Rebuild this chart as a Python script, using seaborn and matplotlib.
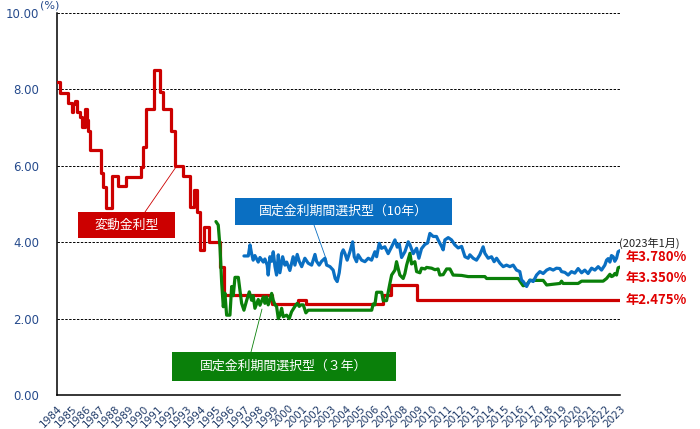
import matplotlib
matplotlib.use("Agg")
import matplotlib.pyplot as plt
from matplotlib.patches import Rectangle
import seaborn as sns
import numpy as np

# ---------------- data ----------------
years = list(range(1984, 2024))

variable_dates = [1984.00, 1984.20, 1984.78, 1985.02, 1985.13, 1985.25, 1985.36, 1985.60,
                  1985.75, 1985.94, 1986.06, 1986.17, 1986.29, 1987.03, 1987.20, 1987.39,
                  1987.79, 1988.25, 1988.78, 1989.80, 1989.98, 1990.16, 1990.74, 1991.13,
                  1991.36, 1991.87, 1992.17, 1992.75, 1993.21, 1993.49, 1993.72, 1993.90,
                  1994.18, 1994.55, 1995.30, 1995.60, 1998.90, 2000.70, 2001.24, 2006.55,
                  2007.15, 2008.95, 2023.00]
variable_rate = [8.20, 7.90, 7.64, 7.42, 7.63, 7.70, 7.40, 7.29,
                 7.02, 7.50, 7.20, 6.90, 6.41, 5.80, 5.45, 4.90,
                 5.72, 5.47, 5.70, 5.98, 6.48, 7.50, 8.50, 7.94,
                 7.50, 6.92, 6.00, 5.72, 4.93, 5.37, 4.80, 3.80,
                 4.40, 4.00, 3.35, 2.625, 2.375, 2.50, 2.375, 2.625,
                 2.875, 2.475, 2.475]

fixed3_dates = [1995.01, 1995.17, 1995.29, 1995.41, 1995.52, 1995.63, 1995.75, 1995.98,
                1996.10, 1996.21, 1996.33, 1996.56, 1996.67, 1996.79, 1996.95, 1997.14,
                1997.32, 1997.48, 1997.59, 1997.71, 1997.94, 1998.06, 1998.29, 1998.40,
                1998.52, 1998.63, 1998.75, 1998.87, 1998.98, 1999.10, 1999.21, 1999.33,
                1999.44, 1999.56, 1999.67, 1999.91, 2000.09, 2000.25, 2000.48, 2000.64,
                2000.78, 2000.90, 2001.06, 2001.24, 2001.40, 2005.80, 2005.90, 2006.02,
                2006.14, 2006.49, 2006.60, 2006.83, 2007.06, 2007.18, 2007.41, 2007.52,
                2007.64, 2007.75, 2007.98, 2008.10, 2008.22, 2008.45, 2008.56, 2008.79,
                2008.91, 2009.14, 2009.25, 2009.49, 2009.60, 2009.95, 2010.18, 2010.40,
                2010.52, 2010.75, 2010.99, 2011.22, 2011.44, 2012.03, 2012.48, 2013.64,
                2013.76, 2015.95, 2016.18, 2016.29, 2016.52, 2016.76, 2017.68, 2017.92,
                2018.84, 2018.95, 2019.06, 2020.10, 2020.34, 2021.83, 2022.07, 2022.30,
                2022.41, 2022.53, 2022.64, 2022.76, 2022.87, 2023.00]
fixed3_rate = [4.54, 4.45, 3.88, 2.92, 2.31, 2.67, 2.09, 2.09,
               2.84, 2.60, 3.08, 3.08, 2.75, 2.40, 2.22, 2.48,
               2.70, 2.48, 2.60, 2.27, 2.50, 2.35, 2.57, 2.40,
               2.57, 2.36, 2.48, 2.66, 2.48, 2.36, 2.32, 2.00,
               2.09, 2.27, 2.05, 2.09, 2.00, 2.18, 2.32, 2.40,
               2.32, 2.36, 2.36, 2.15, 2.22, 2.22, 2.38, 2.36,
               2.69, 2.69, 2.47, 2.47, 2.92, 3.14, 3.27, 3.49,
               3.30, 3.14, 3.05, 3.18, 3.40, 3.71, 3.43, 3.49,
               3.23, 3.20, 3.32, 3.30, 3.34, 3.32, 3.28, 3.30,
               3.14, 3.15, 3.30, 3.30, 3.14, 3.13, 3.10, 3.10,
               3.05, 3.05, 2.92, 2.86, 2.88, 3.00, 3.00, 2.88,
               2.92, 2.98, 2.92, 2.92, 2.98, 2.98, 3.05, 3.16,
               3.10, 3.12, 3.18, 3.14, 3.33, 3.35]

fixed10_dates = [1996.95, 1997.25, 1997.37, 1997.48, 1997.59, 1997.71, 1997.94, 1998.06,
                 1998.29, 1998.40, 1998.56, 1998.63, 1998.75, 1998.87, 1998.98, 1999.10,
                 1999.21, 1999.33, 1999.44, 1999.63, 1999.79, 1999.91, 2000.13, 2000.36,
                 2000.48, 2000.64, 2000.78, 2000.95, 2001.17, 2001.40, 2001.64, 2001.87,
                 2001.98, 2002.16, 2002.33, 2002.56, 2002.68, 2002.91, 2003.13, 2003.27,
                 2003.41, 2003.55, 2003.72, 2003.83, 2003.94, 2004.10, 2004.29, 2004.48,
                 2004.59, 2004.75, 2004.86, 2005.10, 2005.33, 2005.56, 2005.79, 2006.02,
                 2006.14, 2006.32, 2006.48, 2006.71, 2006.94, 2007.18, 2007.41, 2007.57,
                 2007.71, 2007.87, 2008.10, 2008.33, 2008.45, 2008.68, 2008.91, 2009.07,
                 2009.25, 2009.48, 2009.67, 2009.83, 2010.06, 2010.29, 2010.40, 2010.64,
                 2010.75, 2010.87, 2011.10, 2011.33, 2011.56, 2011.79, 2012.03, 2012.26,
                 2012.48, 2012.60, 2012.83, 2013.06, 2013.29, 2013.52, 2013.64, 2013.87,
                 2014.10, 2014.28, 2014.45, 2014.68, 2014.91, 2015.14, 2015.37, 2015.60,
                 2015.83, 2016.06, 2016.18, 2016.30, 2016.53, 2016.76, 2016.99, 2017.22,
                 2017.45, 2017.68, 2017.92, 2018.14, 2018.37, 2018.60, 2018.83, 2018.95,
                 2019.18, 2019.41, 2019.64, 2019.87, 2020.10, 2020.34, 2020.56, 2020.79,
                 2021.03, 2021.26, 2021.49, 2021.72, 2021.95, 2022.07, 2022.18, 2022.30,
                 2022.41, 2022.53, 2022.64, 2022.76, 2022.87, 2023.00]
fixed10_rate = [3.64, 3.64, 3.93, 3.70, 3.53, 3.65, 3.48, 3.60,
                3.48, 3.56, 3.40, 3.14, 3.62, 3.50, 3.75, 3.36,
                3.14, 3.67, 3.20, 3.62, 3.40, 3.48, 3.26, 3.62,
                3.40, 3.68, 3.50, 3.36, 3.58, 3.45, 3.40, 3.68,
                3.50, 3.40, 3.50, 3.58, 3.40, 3.36, 3.27, 3.05,
                2.97, 3.20, 3.71, 3.80, 3.71, 3.53, 3.75, 4.01,
                3.62, 3.49, 3.67, 3.53, 3.49, 3.58, 3.53, 3.75,
                3.62, 3.97, 3.84, 3.88, 3.70, 3.88, 4.06, 3.87,
                3.95, 3.60, 3.75, 4.01, 3.93, 3.70, 3.84, 3.58,
                3.83, 3.94, 3.98, 4.23, 4.15, 4.15, 4.06, 3.89,
                3.80, 4.06, 4.12, 4.06, 3.93, 3.85, 3.89, 3.62,
                3.58, 3.67, 3.58, 3.53, 3.67, 3.88, 3.71, 3.58,
                3.62, 3.49, 3.58, 3.45, 3.36, 3.40, 3.36, 3.40,
                3.27, 3.23, 3.01, 2.97, 2.84, 3.01, 2.97, 3.14,
                3.23, 3.18, 3.27, 3.31, 3.27, 3.32, 3.31, 3.23,
                3.21, 3.14, 3.23, 3.19, 3.31, 3.20, 3.27, 3.18,
                3.32, 3.27, 3.36, 3.27, 3.40, 3.53, 3.57, 3.48,
                3.65, 3.62, 3.50, 3.58, 3.75, 3.78]

y_ticks = [0, 2, 4, 6, 8, 10]
series_names = ["変動金利型", "固定金利期間選択型（10年）", "固定金利期間選択型（３年）"]
latest_labels = ["年3.780%", "年3.350%", "年2.475%"]
latest_date_label = "(2023年1月)"

# ---------------- style ----------------
sns.set_style("white")
plt.rcParams["font.family"] = ["DejaVu Sans", "Noto Sans CJK JP"]
CJK = ["Noto Sans CJK JP", "DejaVu Sans"]

RED, GREEN, BLUE = "#cc0000", "#0a800a", "#0a6fc2"
W, H = 700, 429

fig = plt.figure(figsize=(7.0, 4.29), dpi=100)
ax = fig.add_axes([57 / W, 1 - 395 / H, 563 / W, 382 / H])

def fx(px):
    return px / W

def fy(py):
    return 1 - py / H

sns.lineplot(x=variable_dates, y=variable_rate, ax=ax, color=RED, lw=2.3,
             estimator=None, sort=False, drawstyle="steps-post", zorder=3)
sns.lineplot(x=fixed3_dates, y=fixed3_rate, ax=ax, color=GREEN, lw=2.3,
             estimator=None, sort=False, zorder=4)
sns.lineplot(x=fixed10_dates, y=fixed10_rate, ax=ax, color=BLUE, lw=2.3,
             estimator=None, sort=False, zorder=5)

ax.set_xlim(1984, 2023)
ax.set_ylim(0, 10)
ax.set_xticks(years)
ax.set_xticklabels([str(y) for y in years], rotation=45, ha="right",
                   rotation_mode="anchor", fontsize=7.5, color="#1f3a68")
ax.set_yticks(y_ticks)
ax.set_yticklabels([f"{v:.2f}" for v in y_ticks], fontsize=8.5, color="#254a8c")
ax.tick_params(axis="x", direction="out", length=4, width=1, color="black", pad=2)
ax.tick_params(axis="y", length=0, pad=13)
ax.set_xlabel("")
ax.set_ylabel("")
for s in ["top", "right"]:
    ax.spines[s].set_visible(False)
for s in ["left", "bottom"]:
    ax.spines[s].set_color("black")
    ax.spines[s].set_linewidth(1.1)
ax.yaxis.grid(True, linestyle=(0, (2.5, 1.5)), color="black", lw=0.7)
ax.xaxis.grid(False)
ax.set_axisbelow(True)

fig.text(fx(40), fy(6), "(%)", fontsize=8, color="#254a8c", ha="left", va="center")

# latest value annotations
fig.text(fx(619), fy(243), latest_date_label, fontsize=8, color="#222222",
         ha="left", va="center", family=CJK)
for lab, yy in zip(latest_labels, [257, 278, 300]):
    fig.text(fx(626), fy(yy), lab, fontsize=9.5, color="#e00000", fontweight="bold",
             ha="left", va="center", family=CJK)

# labeled boxes with leader lines
boxes = [
    (series_names[0], RED, (78, 212, 175, 238), (145, 212), (1992.3, 6.0)),
    (series_names[1], BLUE, (235, 198, 452, 225), (314, 225), (2002.7, 3.5)),
    (series_names[2], GREEN, (172, 352, 396, 381), (251, 352), (1998.2, 2.25)),
]
for text, col, (x0, y0, x1, y1), start, target in boxes:
    rect = Rectangle((fx(x0), fy(y1)), fx(x1) - fx(x0), fy(y0) - fy(y1),
                     transform=fig.transFigure, facecolor=col, edgecolor="none",
                     zorder=10)
    fig.patches.append(rect)
    fig.text((fx(x0) + fx(x1)) / 2, (fy(y0) + fy(y1)) / 2, text, color="white",
             fontsize=9.3, ha="center", va="center", family=CJK, zorder=11)
    ax.annotate("", xy=target, xycoords="data",
                xytext=(fx(start[0]), fy(start[1])), textcoords="figure fraction",
                arrowprops=dict(arrowstyle="-", color=col, lw=0.6,
                                shrinkA=0, shrinkB=0), zorder=6)

fig.savefig("out.png", dpi=100)
